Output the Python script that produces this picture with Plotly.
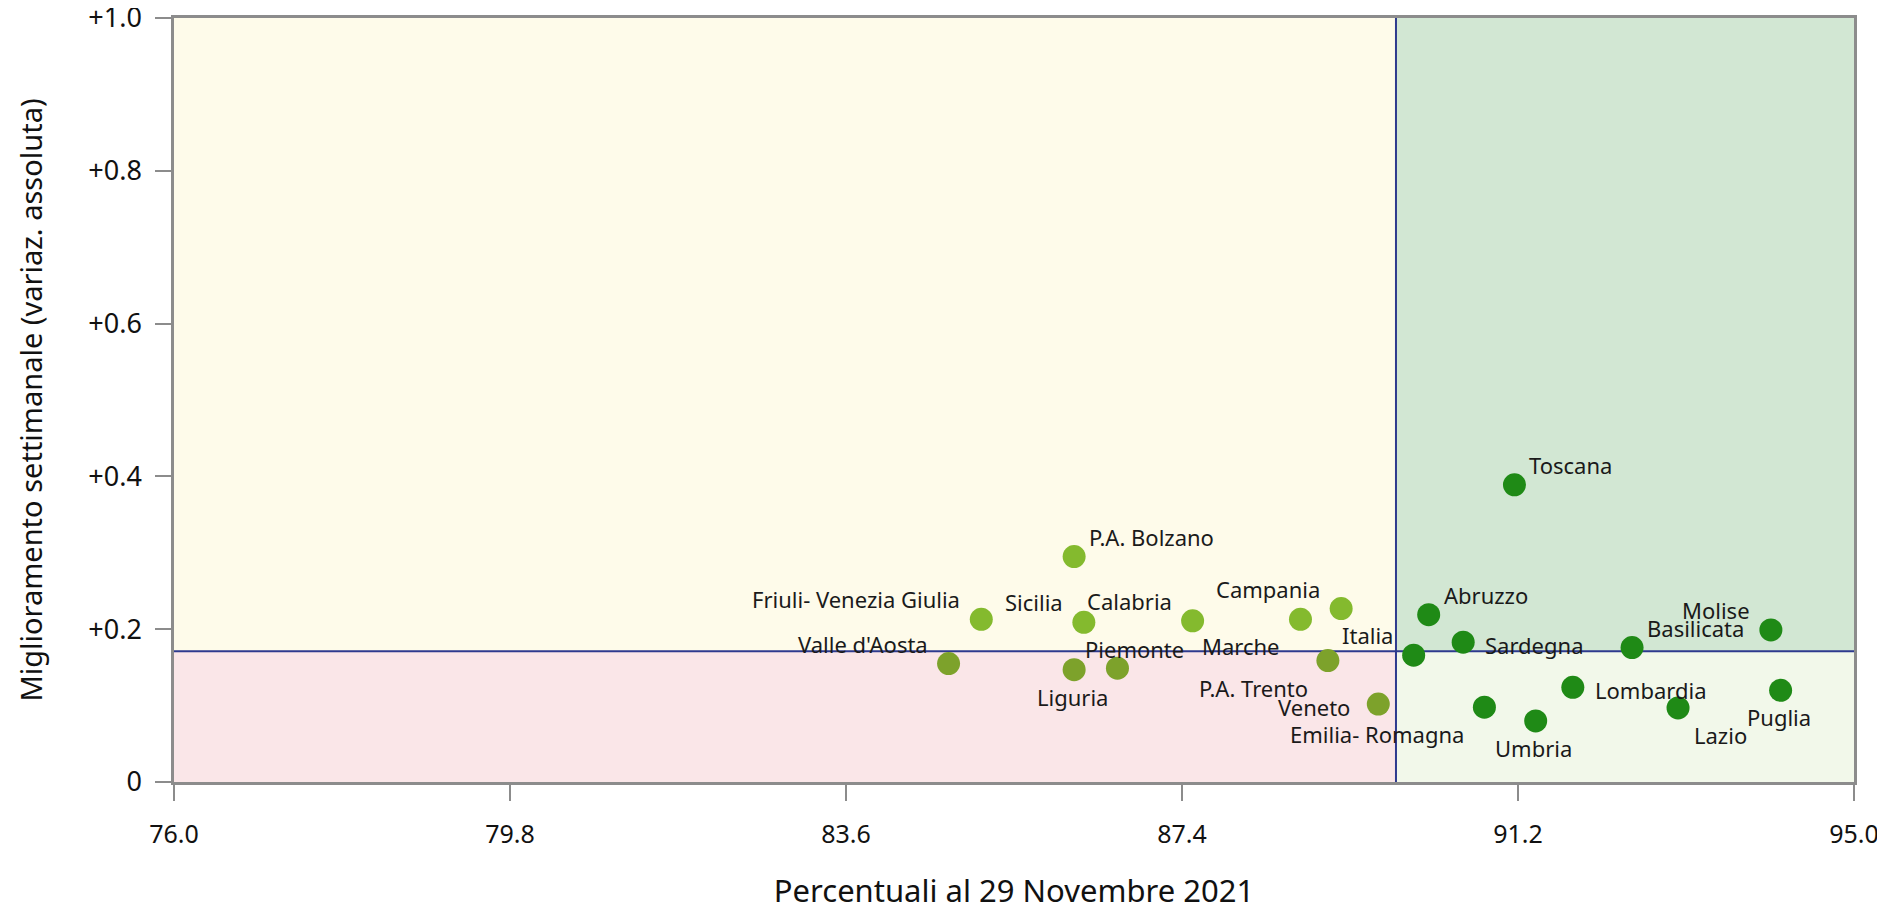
"""Scatter: copertura vaccinale vs miglioramento settimanale per regione."""

import plotly.graph_objects as go

# Data
REGIONI = [
    "Valle d'Aosta", "Friuli- Venezia Giulia", "Sicilia", "P.A. Bolzano",
    "Liguria", "Piemonte", "Calabria", "Marche", "Campania", "P.A. Trento",
    "Veneto", "Italia", "Abruzzo", "Sardegna", "Emilia- Romagna", "Toscana",
    "Umbria", "Lombardia", "Basilicata", "Lazio", "Molise", "Puglia",
]
PERCENTUALE = [
    84.76, 85.13, 86.29, 86.18,
    86.18, 86.67, 87.52, 88.74, 89.20, 89.05,
    89.62, 90.02, 90.19, 90.58, 90.82, 91.16,
    91.40, 91.82, 92.49, 93.01, 94.06, 94.17,
]
MIGLIORAMENTO = [
    0.155, 0.213, 0.209, 0.295,
    0.147, 0.149, 0.211, 0.213, 0.227, 0.159,
    0.102, 0.166, 0.219, 0.183, 0.098, 0.389,
    0.080, 0.124, 0.176, 0.097, 0.199, 0.120,
]
# reference lines splitting the quadrants
SOGLIA_PERCENTUALE = 89.82
SOGLIA_MIGLIORAMENTO = 0.171

X_RANGE = [76.0, 95.0]
Y_RANGE = [0.0, 1.0]
Y_TICKVALS = [0, 0.2, 0.4, 0.6, 0.8, 1.0]
Y_TICKTEXT = ["0", "+0.2", "+0.4", "+0.6", "+0.8", "+1.0"]

# label placement (style, not data)
LABEL_POS = [
    "top left", "top left", "top left", "top right",
    "bottom center", "top center", "top left", "bottom left", "top left", "bottom left",
    "middle left", "top left", "top right", "middle right", "bottom left", "top right",
    "bottom center", "middle right", "top right", "bottom right", "top left", "bottom center",
]
# position -> (xanchor, xshift px, yshift px)
LABEL_OFFSETS = {
    "top left": ("right", -19, 20),
    "top right": ("left", 13, 20),
    "top center": ("center", 17, 19),
    "bottom left": ("right", -18, -27),
    "bottom right": ("left", 14, -27),
    "bottom center": ("center", -2, -27),
    "middle left": ("right", -26, -3),
    "middle right": ("left", 20, -3),
}

FONT = "Noto Sans"
GRID_GREY = "#8C8C8C"
LINE_BLUE = "#2E3A8E"


def dot_color(x, y):
    if x >= SOGLIA_PERCENTUALE:
        return "#1F8A16"
    if y >= SOGLIA_MIGLIORAMENTO:
        return "#84BA2E"
    return "#7DA22B"


colors = [dot_color(x, y) for x, y in zip(PERCENTUALE, MIGLIORAMENTO)]

fig = go.Figure(
    go.Scatter(
        x=PERCENTUALE,
        y=MIGLIORAMENTO,
        mode="markers",
        marker=dict(size=23, color=colors, line=dict(width=0)),
        hoverinfo="skip",
        cliponaxis=False,
    )
)

# Point labels
for name, x, y, pos in zip(REGIONI, PERCENTUALE, MIGLIORAMENTO, LABEL_POS):
    xanchor, xshift, yshift = LABEL_OFFSETS[pos]
    fig.add_annotation(
        x=x, y=y, text=name, showarrow=False,
        xanchor=xanchor, yanchor="middle", xshift=xshift, yshift=yshift,
        font=dict(family=FONT, size=22, color="#1A1A1A"),
    )

# Quadrant backgrounds
quadrants = [
    (X_RANGE[0], SOGLIA_PERCENTUALE, SOGLIA_MIGLIORAMENTO, Y_RANGE[1], "#FEFBEA"),
    (X_RANGE[0], SOGLIA_PERCENTUALE, Y_RANGE[0], SOGLIA_MIGLIORAMENTO, "#FAE6E8"),
    (SOGLIA_PERCENTUALE, X_RANGE[1], SOGLIA_MIGLIORAMENTO, Y_RANGE[1], "#D2E7D3"),
    (SOGLIA_PERCENTUALE, X_RANGE[1], Y_RANGE[0], SOGLIA_MIGLIORAMENTO, "#F2F8EA"),
]
for x0, x1, y0, y1, c in quadrants:
    fig.add_shape(type="rect", xref="x", yref="y", x0=x0, x1=x1, y0=y0, y1=y1,
                  fillcolor=c, line=dict(width=0), layer="below")

fig.add_shape(type="line", xref="x", yref="y", x0=SOGLIA_PERCENTUALE, x1=SOGLIA_PERCENTUALE,
              y0=Y_RANGE[0], y1=Y_RANGE[1], line=dict(color=LINE_BLUE, width=2), layer="below")
fig.add_shape(type="line", xref="x", yref="y", x0=X_RANGE[0], x1=X_RANGE[1],
              y0=SOGLIA_MIGLIORAMENTO, y1=SOGLIA_MIGLIORAMENTO,
              line=dict(color=LINE_BLUE, width=2), layer="below")

axis_common = dict(
    automargin=False,
    showgrid=False,
    zeroline=False,
    showline=True,
    mirror=True,
    linecolor=GRID_GREY,
    linewidth=2.5,
    ticks="outside",
    ticklen=16,
    tickwidth=2,
    tickcolor=GRID_GREY,
    ticklabeloverflow="allow",
)

# page body has an 8px margin, so the figure is 8px smaller than the window
fig.update_layout(
    width=1877,
    height=903,
    margin=dict(l=166, r=31, t=10, b=129),
    paper_bgcolor="white",
    plot_bgcolor="white",
    showlegend=False,
    font=dict(family=FONT),
    xaxis=dict(
        range=X_RANGE,
        tick0=76.0,
        dtick=3.8,
        tickformat=".1f",
        ticklabelstandoff=12,
        tickfont=dict(family=FONT, size=25, color="#111111"),
        title=dict(text="Percentuali al 29 Novembre 2021",
                   font=dict(family=FONT, size=31, color="#111111"), standoff=38),
        **axis_common,
    ),
    yaxis=dict(
        range=Y_RANGE,
        tickvals=Y_TICKVALS,
        ticktext=Y_TICKTEXT,
        ticklabelstandoff=8,
        tickfont=dict(family=FONT, size=27, color="#111111"),
        title=dict(text="Miglioramento settimanale (variaz. assoluta)",
                   font=dict(family=FONT, size=29, color="#111111"), standoff=38),
        **axis_common,
    ),
)

fig.write_html("out.html")
